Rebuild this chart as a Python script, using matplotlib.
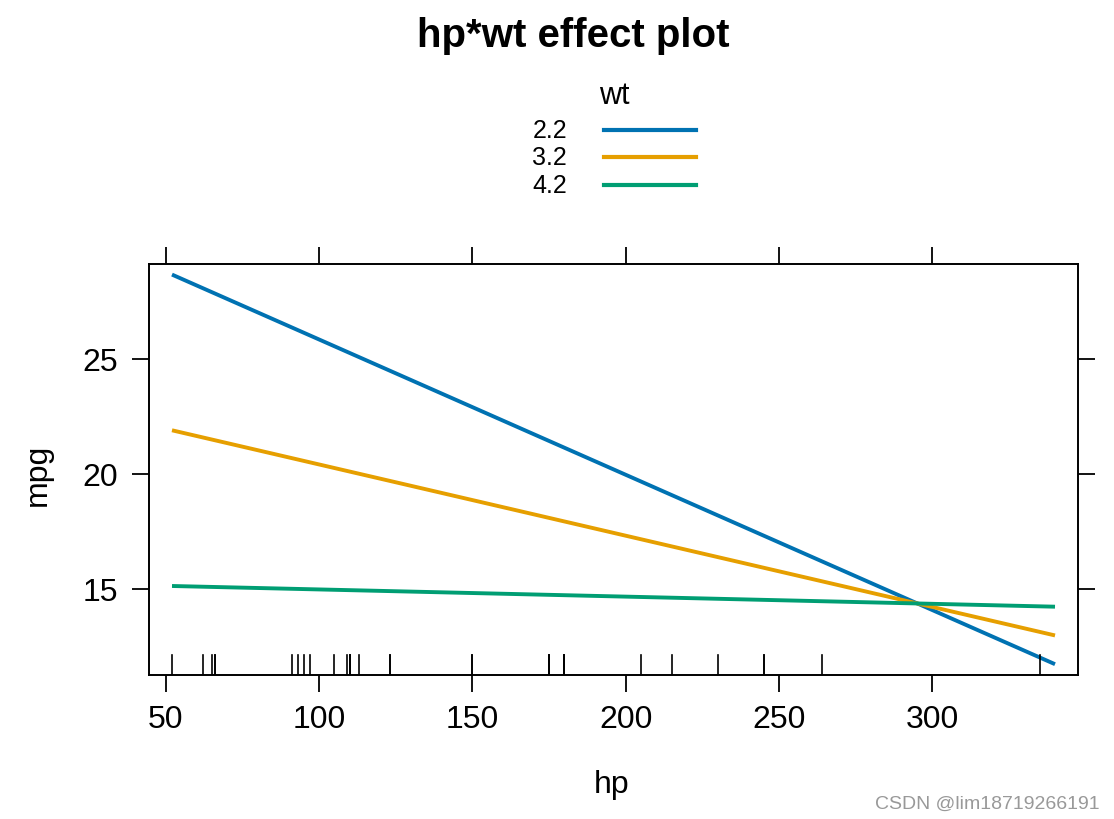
import matplotlib
matplotlib.use("Agg")
import matplotlib.pyplot as plt
from matplotlib.lines import Line2D

plt.rcParams['font.family'] = ['Liberation Sans', 'DejaVu Sans']

# Data
hp_range = [52, 340]
wt_levels = ["2.2", "3.2", "4.2"]
mpg_22 = [28.67, 11.73]
mpg_32 = [21.90, 12.98]
mpg_42 = [15.13, 14.23]
series = [mpg_22, mpg_32, mpg_42]
colors = ["#0072B2", "#E69F00", "#009E73"]
rug_hp = [110, 110, 93, 110, 175, 105, 245, 62, 95, 123, 123, 180, 180, 180, 205,
          215, 230, 66, 52, 65, 97, 150, 150, 245, 175, 66, 91, 113, 264, 175, 335, 109]
x_ticks = [50, 100, 150, 200, 250, 300]
y_ticks = [15, 20, 25]

W, H = 1114, 820
fig = plt.figure(figsize=(W / 100, H / 100), dpi=100)
ax = fig.add_axes([149 / W, 1 - 676 / H, (1078 - 149) / W, (676 - 265) / H])

for vals, c in zip(series, colors):
    ax.plot(hp_range, vals, color=c, lw=2.8, solid_capstyle='butt')

ax.set_xlim(44.5, 347.5)
ax.set_ylim(11.26, 29.13)

# rug
for h in rug_hp:
    ax.plot([h, h], [0, 20 / 411], color='black', lw=1.2,
            transform=ax.get_xaxis_transform())

ax.set_xticks(x_ticks)
ax.set_yticks(y_ticks)
ax.tick_params(axis='both', direction='out', length=12, width=1.3, labelsize=23,
               colors='black')
ax.tick_params(axis='x', top=True, labeltop=False, bottom=True, pad=9)
ax.tick_params(axis='y', right=True, labelright=False, left=True, pad=10)
for s in ax.spines.values():
    s.set_linewidth(1.4)

fig.text(612 / W, 1 - 785 / H, "hp", fontsize=23, ha='center', va='center')
fig.text(38 / W, 1 - 475 / H, "mpg", fontsize=23, ha='center', va='center',
         rotation=90)

fig.text(573 / W, 1 - 36 / H, "hp*wt effect plot", fontsize=29, fontweight='bold',
         ha='center', va='center')

# legend
fig.text(614 / W, 1 - 96 / H, "wt", fontsize=22, ha='center', va='center')
leg_y = [131, 158, 186]
for lab, c, yy in zip(wt_levels, colors, leg_y):
    fig.text(567 / W, 1 - yy / H, lab, fontsize=18, ha='right', va='center')
    fig.add_artist(Line2D([604 / W, 696 / W], [1 - yy / H, 1 - yy / H],
                          color=c, lw=3.0, transform=fig.transFigure))

fig.text(1100 / W, 1 - 804 / H, "CSDN @lim18719266191", fontsize=14,
         color='#999999', ha='right', va='center')

fig.savefig("out.png", dpi=100)
